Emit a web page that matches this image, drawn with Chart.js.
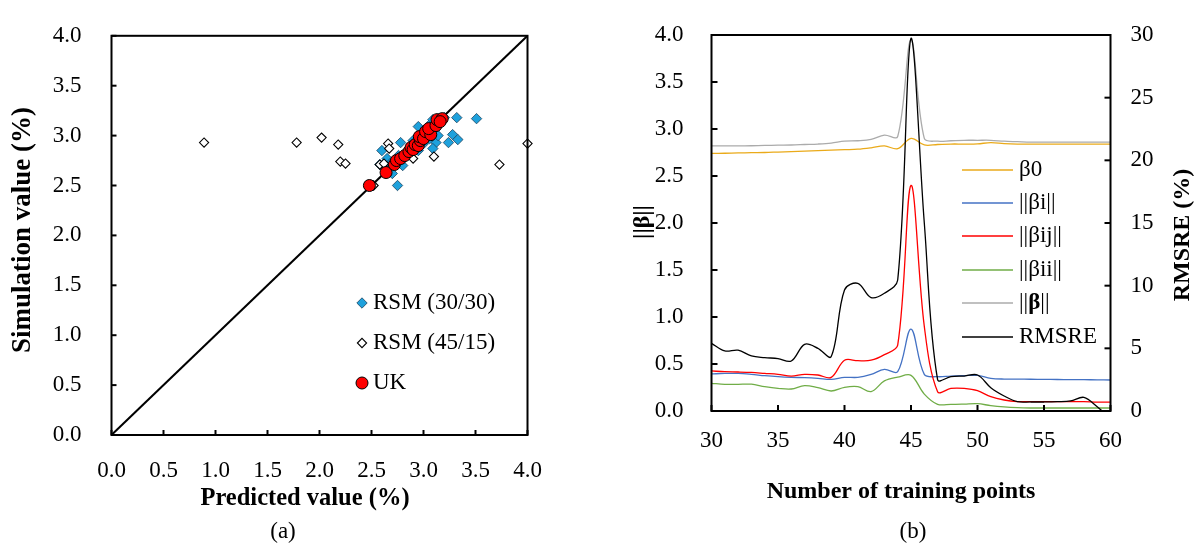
<!DOCTYPE html>
<html>
<head>
<meta charset="utf-8">
<script src="https://cdn.jsdelivr.net/npm/chart.js@4.4.1/dist/chart.umd.min.js"></script>
<style>
  html, body { margin: 0; padding: 0; background: #fff; }
  #wrapA { position: absolute; left: 0; top: 0; width: 570px; height: 550px; }
  #wrapB { position: absolute; left: 600px; top: 0; width: 599px; height: 550px; }
</style>
</head>
<body>
<div id="wrapA"><canvas id="chartA" width="570" height="550"></canvas></div>
<div id="wrapB"><canvas id="chartB" width="599" height="550"></canvas></div>
<script>
// ---- (a) predicted vs simulated values ----
const rsm3030X = [3.32, 3.51, 2.95, 3.09, 3.28, 3.33, 3.24, 3.12, 3.09, 2.78, 2.60, 2.65, 2.58, 2.80, 2.70,
                  2.75, 3.06, 3.14, 2.85, 2.90, 3.00, 3.05, 2.72, 2.76, 3.15, 2.95, 2.62, 3.20, 2.88, 2.68];
const rsm3030Y = [3.18, 3.17, 3.09, 3.16, 3.01, 2.96, 2.93, 2.93, 2.87, 2.93, 2.85, 2.77, 2.71, 2.70, 2.62,
                  2.50, 2.97, 3.00, 2.82, 2.95, 2.92, 3.10, 2.75, 2.80, 3.12, 2.85, 2.68, 3.18, 2.90, 2.72];

const rsm4515X = [0.89, 1.78, 2.02, 2.18, 2.20, 2.25, 2.58, 2.66, 2.67, 2.90, 3.10, 3.73, 4.00, 2.52, 2.62];
const rsm4515Y = [2.93, 2.93, 2.98, 2.91, 2.74, 2.72, 2.71, 2.92, 2.87, 2.77, 2.79, 2.71, 2.92, 2.50, 2.72];

const ukX = [2.48, 2.64, 2.72, 2.74, 2.78, 2.82, 2.86, 2.88, 2.90, 2.92, 2.95, 2.97, 2.96, 3.00, 3.02,
             3.07, 3.05, 3.12, 3.13, 3.18, 3.16];
const ukY = [2.50, 2.63, 2.71, 2.75, 2.77, 2.80, 2.84, 2.88, 2.86, 2.91, 2.90, 2.95, 2.99, 2.97, 3.04,
             3.01, 3.07, 3.10, 3.16, 3.17, 3.14];

const diagX = [0, 4];
const diagY = [0, 4];

// ---- (b) coefficients vs number of training points ----
const trainingPoints = [30, 31, 32, 33, 34, 35, 36, 37, 38, 39, 40, 41, 42, 43, 44, 45,
                        46, 47, 48, 49, 50, 51, 52, 53, 54, 55, 56, 57, 58, 59, 60];
const beta0 = [2.74, 2.742, 2.745, 2.748, 2.75, 2.755, 2.76, 2.765, 2.77, 2.775, 2.78, 2.785, 2.80, 2.82, 2.79, 2.90,
               2.83, 2.835, 2.84, 2.84, 2.842, 2.855, 2.845, 2.84, 2.84, 2.84, 2.84, 2.84, 2.84, 2.84, 2.84];
const betaI = [0.394, 0.40, 0.40, 0.39, 0.376, 0.365, 0.358, 0.355, 0.348, 0.337, 0.358, 0.358, 0.39, 0.443, 0.418, 0.872,
               0.39, 0.365, 0.372, 0.376, 0.379, 0.348, 0.34, 0.34, 0.338, 0.336, 0.335, 0.334, 0.333, 0.332, 0.33];
const betaIJ = [0.426, 0.418, 0.415, 0.41, 0.40, 0.39, 0.372, 0.39, 0.383, 0.358, 0.54, 0.535, 0.54, 0.60, 0.70, 2.40,
                0.90, 0.205, 0.24, 0.24, 0.216, 0.152, 0.117, 0.10, 0.10, 0.10, 0.10, 0.10, 0.10, 0.095, 0.095];
const betaII = [0.294, 0.284, 0.284, 0.285, 0.259, 0.241, 0.234, 0.27, 0.248, 0.213, 0.252, 0.259, 0.206, 0.32, 0.36, 0.379,
                0.18, 0.071, 0.071, 0.074, 0.078, 0.057, 0.043, 0.035, 0.032, 0.032, 0.032, 0.032, 0.032, 0.032, 0.032];
const betaNorm = [2.82, 2.82, 2.82, 2.822, 2.825, 2.828, 2.83, 2.835, 2.84, 2.85, 2.87, 2.875, 2.89, 2.935, 2.92, 3.95,
                  2.90, 2.87, 2.875, 2.88, 2.88, 2.88, 2.87, 2.865, 2.86, 2.86, 2.86, 2.86, 2.86, 2.86, 2.86];
const rmsre = [5.40, 4.79, 4.85, 4.39, 4.26, 4.18, 3.99, 5.32, 5.00, 4.34, 9.66, 10.19, 9.05, 9.39, 10.45, 29.74,
               15.0, 2.50, 2.74, 2.79, 2.87, 1.86, 1.20, 0.74, 0.72, 0.72, 0.74, 0.80, 1.09, 0.34, -0.6];

const FONT = '"Liberation Serif", "Times New Roman", Times, serif';
const FS = 23;
Chart.defaults.color = '#000';
Chart.defaults.font.family = FONT;
Chart.defaults.font.size = FS;

const pts = (xs, ys) => xs.map((x, i) => ({ x: x, y: ys[i] }));

function text(ctx, str, x, y, bold, size, rot) {
  ctx.save();
  ctx.translate(x, y);
  ctx.rotate(rot || 0);
  ctx.font = (bold ? 'bold ' : '') + size + 'px ' + FONT;
  ctx.textAlign = 'center';
  ctx.textBaseline = 'middle';
  ctx.fillStyle = '#000';
  ctx.fillText(str, 0, 0);
  ctx.restore();
}

function marker(ctx, ds, x, y) {
  ctx.save();
  ctx.fillStyle = ds.backgroundColor;
  ctx.strokeStyle = ds.borderColor;
  ctx.lineWidth = ds.borderWidth;
  const r = ds.pointRadius;
  ctx.beginPath();
  if (ds.pointStyle === 'circle') {
    ctx.arc(x, y, r, 0, Math.PI * 2);
  } else {
    ctx.moveTo(x - r, y); ctx.lineTo(x, y - r); ctx.lineTo(x + r, y); ctx.lineTo(x, y + r);
    ctx.closePath();
  }
  ctx.fill();
  ctx.stroke();
  ctx.restore();
}

// frame round the plot and short inward tick marks (Excel style)
const frameTicks = {
  id: 'frameTicks',
  afterDatasetsDraw(chart, args, opts) {
    const ctx = chart.ctx, a = chart.chartArea;
    ctx.save();
    ctx.strokeStyle = '#000';
    ctx.lineWidth = 2;
    opts.marks.forEach(m => {
      const sc = chart.scales[m.axis];
      sc.ticks.forEach(t => {
        const p = sc.getPixelForValue(t.value);
        ctx.beginPath();
        if (m.side === 'bottom') { ctx.moveTo(p, a.bottom); ctx.lineTo(p, a.bottom - m.len); }
        if (m.side === 'left') { ctx.moveTo(a.left, p); ctx.lineTo(a.left + m.len, p); }
        if (m.side === 'right') { ctx.moveTo(a.right, p); ctx.lineTo(a.right - m.len, p); }
        ctx.stroke();
      });
    });
    ctx.lineWidth = opts.frame;
    ctx.strokeRect(a.left, a.top, a.right - a.left, a.bottom - a.top);
    ctx.restore();
  }
};

// legend inside the plot, axis titles and caption for (a)
const decorA = {
  id: 'decorA',
  afterDraw(chart) {
    const ctx = chart.ctx;
    const order = ['RSM (30/30)', 'RSM (45/15)', 'UK'];
    const rowY = [303, 343, 383];
    order.forEach((lbl, i) => {
      const ds = chart.data.datasets.find(d => d.label === lbl);
      marker(ctx, ds, 362, rowY[i]);
      ctx.save();
      ctx.font = FS + 'px ' + FONT;
      ctx.textBaseline = 'middle';
      ctx.fillStyle = '#000';
      ctx.fillText(lbl, 373, rowY[i]);
      ctx.restore();
    });
    text(ctx, 'Simulation value (%)', 23, 230, true, 27, -Math.PI / 2);
    text(ctx, 'Predicted value (%)', 305, 499, true, 24.5);
    text(ctx, '(a)', 283, 532, false, FS);
  }
};

// legend inside the plot, axis titles and caption for (b)
const decorB = {
  id: 'decorB',
  afterDraw(chart) {
    const ctx = chart.ctx;
    const rowY = [170, 203, 236, 270, 303, 337];
    chart.data.datasets.forEach((ds, i) => {
      const y = rowY[i];
      ctx.save();
      ctx.strokeStyle = ds.borderColor;
      ctx.lineWidth = 1.3;
      ctx.beginPath(); ctx.moveTo(362, y); ctx.lineTo(413, y); ctx.stroke();
      ctx.textBaseline = 'middle';
      ctx.fillStyle = '#000';
      let x = 419;
      ds.labelParts.forEach(p => {
        ctx.font = (p.bold ? 'bold ' : '') + FS + 'px ' + FONT;
        ctx.fillText(p.t, x, y);
        x += ctx.measureText(p.t).width;
      });
      ctx.restore();
    });
    text(ctx, '||β||', 43, 222, true, 24, -Math.PI / 2);
    text(ctx, 'RMSRE (%)', 583, 235, true, 24, -Math.PI / 2);
    text(ctx, 'Number of training points', 301, 492, true, 24);
    text(ctx, '(b)', 313, 532, false, FS);
  }
};

const tickFont = { family: FONT, size: FS };

new Chart(document.getElementById('chartA'), {
  type: 'scatter',
  data: {
    datasets: [
      { label: 'UK', data: pts(ukX, ukY), pointStyle: 'circle', pointRadius: 6,
        backgroundColor: '#ff0000', borderColor: '#000', borderWidth: 1, order: 0, clip: false },
      { label: 'RSM (45/15)', data: pts(rsm4515X, rsm4515Y), pointStyle: 'rectRot', pointRadius: 4.6,
        backgroundColor: '#ffffff', borderColor: '#000', borderWidth: 1.1, order: 1, clip: false },
      { label: 'RSM (30/30)', data: pts(rsm3030X, rsm3030Y), pointStyle: 'rectRot', pointRadius: 5.2,
        backgroundColor: '#1ea1dc', borderColor: '#1c4460', borderWidth: 0.8, order: 2, clip: false },
      { label: 'line', data: pts(diagX, diagY), showLine: true, pointRadius: 0,
        borderColor: '#000', borderWidth: 2, order: 3 }
    ]
  },
  options: {
    responsive: false,
    animation: false,
    events: [],
    layout: { padding: { left: 0, top: 17, right: 42.5, bottom: 0 } },
    plugins: {
      legend: { display: false },
      tooltip: { enabled: false },
      frameTicks: { frame: 2, marks: [{ axis: 'x', side: 'bottom', len: 5 }, { axis: 'y', side: 'left', len: 5 }] }
    },
    scales: {
      x: { type: 'linear', min: 0, max: 4, grid: { display: false }, border: { display: false },
           ticks: { stepSize: 0.5, padding: 14, font: tickFont, callback: v => v.toFixed(1) },
           afterFit(s) { s.height = 115; } },
      y: { type: 'linear', min: 0, max: 4, grid: { display: false }, border: { display: false },
           ticks: { stepSize: 0.5, padding: 22, font: tickFont, callback: v => v.toFixed(1) },
           afterFit(s) { s.width = 111.5; } }
    }
  },
  plugins: [frameTicks, decorA]
});

const series = [
  { parts: [{ t: 'β0' }], values: beta0, color: '#eaaa1a', axis: 'y' },
  { parts: [{ t: '||βi||' }], values: betaI, color: '#4472c4', axis: 'y' },
  { parts: [{ t: '||βij||' }], values: betaIJ, color: '#ff0000', axis: 'y' },
  { parts: [{ t: '||βii||' }], values: betaII, color: '#70ad47', axis: 'y' },
  { parts: [{ t: '||' }, { t: 'β', bold: true }, { t: '||' }], values: betaNorm, color: '#ababab', axis: 'y' },
  { parts: [{ t: 'RMSRE' }], values: rmsre, color: '#000000', axis: 'y1' }
];

new Chart(document.getElementById('chartB'), {
  type: 'line',
  data: {
    datasets: series.map((s, i) => ({
      label: s.parts.map(p => p.t).join(''),
      labelParts: s.parts,
      data: pts(trainingPoints, s.values),
      yAxisID: s.axis,
      borderColor: s.color,
      borderWidth: 1.3,
      pointRadius: 0,
      tension: 0.35,
      fill: false,
      order: series.length - i
    }))
  },
  options: {
    responsive: false,
    animation: false,
    events: [],
    layout: { padding: { left: 0, top: 35, right: 0, bottom: 0 } },
    plugins: {
      legend: { display: false },
      tooltip: { enabled: false },
      frameTicks: { frame: 2, marks: [{ axis: 'x', side: 'bottom', len: 6 }, { axis: 'y', side: 'left', len: 6 },
                                      { axis: 'y1', side: 'right', len: 6 }] }
    },
    scales: {
      x: { type: 'linear', min: 30, max: 60, grid: { display: false }, border: { display: false },
           ticks: { stepSize: 5, padding: 8, font: tickFont },
           afterFit(s) { s.height = 139; } },
      y: { type: 'linear', position: 'left', min: 0, max: 4, grid: { display: false }, border: { display: false },
           ticks: { stepSize: 0.5, padding: 20, font: tickFont, callback: v => v.toFixed(1) },
           afterFit(s) { s.width = 111.5; } },
      y1: { type: 'linear', position: 'right', min: 0, max: 30, grid: { display: false }, border: { display: false },
            ticks: { stepSize: 5, padding: 12, font: tickFont },
            afterFit(s) { s.width = 88.5; } }
    }
  },
  plugins: [frameTicks, decorB]
});
</script>
</body>
</html>
